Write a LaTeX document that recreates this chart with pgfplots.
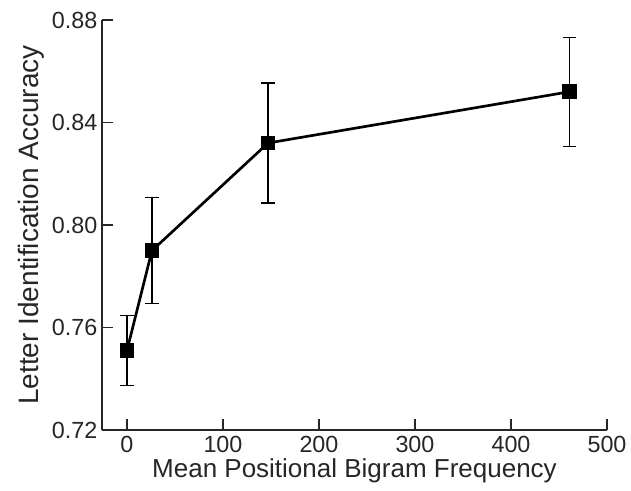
\documentclass[border=0pt]{standalone}
\usepackage{fontspec}
\setmainfont{Liberation Sans}
\usepackage{pgfplots}
\pgfplotsset{compat=1.18}

\begin{document}
\begin{tikzpicture}
\begin{axis}[
  scale only axis,
  width=378.75pt, height=307.5pt,
  xmin=-26, xmax=500, ymin=0.72, ymax=0.88,
  axis x line=bottom, axis y line=left,
  axis line style={-, line width=1.6pt, black!85},
  xtick={0,100,...,500},
  ytick={0.72,0.76,0.80,0.84,0.88},
  yticklabel style={/pgf/number format/.cd, fixed, fixed zerofill, precision=2},
  /pgf/number format/assume math mode=true,
  tick align=inside, major tick length=8pt,
  tick style={line width=1.1pt, black!85},
  tick label style={font=\fontsize{17.5}{19}\selectfont, text=black!85},
  xticklabel style={yshift=-1pt},
  label style={font=\fontsize{19.5}{22}\selectfont, text=black!85},
  xlabel={Mean Positional Bigram Frequency},
  ylabel={Letter Identification Accuracy},
  xlabel style={yshift=2pt},
  ylabel style={font=\fontsize{21}{24}\selectfont, yshift=-1pt},
  clip=false,
]
\addplot[black, line width=2pt, mark=square*, mark size=4.5pt,
  error bars/.cd, y dir=both, y explicit,
  error bar style={line width=0.9pt, black},
  error mark options={rotate=90, mark size=5pt, line width=0.9pt}]
  coordinates {
    (0,0.751)   +- (0,0.0137)
    (26,0.790)  +- (0,0.0207)
    (147,0.832) +- (0,0.0234)
    (461,0.852) +- (0,0.0213)
  };
\end{axis}
\pgfresetboundingbox
\path ([shift={(-76.5pt,-45pt)}]current axis.south west)
  rectangle ([shift={(18pt,15pt)}]current axis.north east);
\end{tikzpicture}
\end{document}
